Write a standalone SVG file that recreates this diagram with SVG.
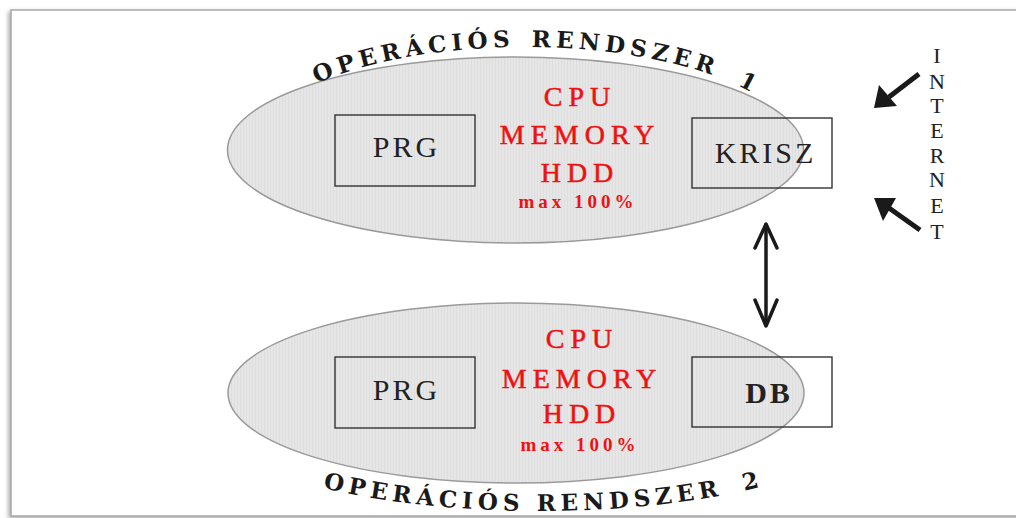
<svg xmlns="http://www.w3.org/2000/svg" width="1016" height="518" viewBox="0 0 1016 518">
<defs>
<filter id="sh" x="-5%" y="-5%" width="110%" height="110%">
<feDropShadow dx="-2" dy="2" stdDeviation="2" flood-color="#777" flood-opacity="0.6"/>
</filter>
<pattern id="stripe" width="3" height="10" patternUnits="userSpaceOnUse">
<rect width="3" height="10" fill="#e6e6e6"/>
<rect width="1" height="10" fill="#dedede"/>
</pattern>
<path id="arcTop" d="M 252,150 A 273 103 0 0 1 798,150"/>
<path id="arcBot" d="M 185,400 A 355 111 0 0 0 895,400"/>
</defs>
<style>
.os{fill:url(#stripe);stroke:#9a9a9a;stroke-width:1.5}
.box{fill:none;stroke:#333;stroke-width:1.4}
.lbl{font-family:"Liberation Serif","Times New Roman",serif;font-size:30px;fill:#222;letter-spacing:3px;text-anchor:middle}
.red{font-family:"Liberation Serif","Times New Roman",serif;font-size:28px;fill:#ee1111;stroke:#ee1111;stroke-width:0.5;letter-spacing:6px;text-anchor:middle}
.max{font-family:"Liberation Serif","Times New Roman",serif;font-size:19px;font-weight:bold;fill:#ee1111;letter-spacing:4px;text-anchor:middle}
.title{font-family:"DejaVu Serif","Liberation Serif",serif;font-size:23px;font-weight:bold;fill:#1a1a1a;letter-spacing:5px;text-anchor:middle}
.net{font-family:"Liberation Serif","Times New Roman",serif;font-size:22px;fill:#222;text-anchor:middle}
.arr{fill:#1a1a1a}
.shaft{stroke:#1a1a1a;stroke-width:5;fill:none}
.dbl{stroke:#1a1a1a;stroke-width:3.5;fill:none;stroke-linecap:round;stroke-linejoin:round}
</style>
<rect x="11" y="10" width="1020" height="506" fill="#ffffff" stroke="#a8a8a8" stroke-width="1.5" filter="url(#sh)"/>

<g id="os1">
<ellipse class="os" cx="515.5" cy="150" rx="288" ry="93"/>
<text class="title"><textPath href="#arcTop" startOffset="32%">OPERÁCIÓS</textPath></text>
<text class="title"><textPath href="#arcTop" startOffset="66.2%">RENDSZER</textPath></text>
<text class="title"><textPath href="#arcTop" startOffset="86.6%">1</textPath></text>
<text class="red" x="580" y="106">CPU</text>
<text class="red" x="580" y="144">MEMORY</text>
<text class="red" x="580" y="182">HDD</text>
<text class="max" x="578" y="208">max 100%</text>
</g>
<g id="prg1">
<rect class="box" x="335" y="115" width="140" height="71"/>
<text class="lbl" x="406.5" y="157">PRG</text>
</g>
<g id="krisz">
<rect class="box" x="692" y="118" width="140" height="70"/>
<text class="lbl" x="765.5" y="163">KRISZ</text>
</g>

<g id="os2">
<ellipse class="os" cx="516" cy="393" rx="288" ry="90"/>
<text class="title"><textPath href="#arcBot" startOffset="35%">OPERÁCIÓS</textPath></text>
<text class="title"><textPath href="#arcBot" startOffset="61.6%">RENDSZER</textPath></text>
<text class="title"><textPath href="#arcBot" startOffset="77.6%">2</textPath></text>
<text class="red" x="582" y="348">CPU</text>
<text class="red" x="582" y="388">MEMORY</text>
<text class="red" x="582" y="423">HDD</text>
<text class="max" x="580" y="451">max 100%</text>
</g>
<g id="prg2">
<rect class="box" x="335" y="357" width="140" height="71"/>
<text class="lbl" x="406.5" y="400">PRG</text>
</g>
<g id="db">
<rect class="box" x="692" y="357" width="140" height="70"/>
<text class="lbl" x="769" y="403" style="font-weight:bold">DB</text>
</g>

<g id="internet">
<text class="net" x="937" y="63">I</text>
<text class="net" x="937" y="89">N</text>
<text class="net" x="937" y="113">T</text>
<text class="net" x="937" y="138">E</text>
<text class="net" x="937" y="163">R</text>
<text class="net" x="937" y="187">N</text>
<text class="net" x="937" y="213">E</text>
<text class="net" x="937" y="239">T</text>
</g>

<g id="connectors">
<line class="shaft" x1="919" y1="74" x2="889" y2="97"/>
<polygon class="arr" points="874,108 879,85 897,106"/>
<line class="shaft" x1="920" y1="230" x2="889" y2="208"/>
<polygon class="arr" points="874,198 896,198 883,221"/>
<line class="dbl" x1="766" y1="225" x2="766" y2="325"/>
<polyline class="dbl" points="755,248 766,224 777,248"/>
<polyline class="dbl" points="755,300 766,326 777,300"/>
</g>
</svg>
